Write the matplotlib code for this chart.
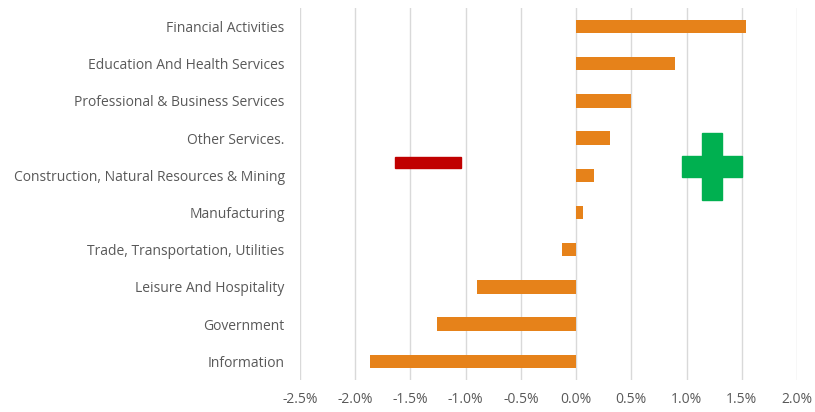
import matplotlib.pyplot as plt
from matplotlib.patches import Rectangle

categories = ['Information', 'Government', 'Leisure And Hospitality',
              'Trade, Transportation, Utilities', 'Manufacturing',
              'Construction, Natural Resources & Mining', 'Other Services.',
              'Professional & Business Services', 'Education And Health Services',
              'Financial Activities']
values = [-1.865, -1.26, -0.90, -0.13, 0.063, 0.16, 0.305, 0.50, 0.895, 1.54]
xticks = [-2.5, -2.0, -1.5, -1.0, -0.5, 0.0, 0.5, 1.0, 1.5, 2.0]

# decorative minus / plus signs (x0, y0, width, height) in data units
minus_rect = [(-1.64, 5.19, 0.60, 0.295)]
plus_rects = [(0.956, 4.96, 0.542, 0.555), (1.137, 4.35, 0.181, 1.79)]

plt.rcParams['font.family'] = ['Open Sans', 'DejaVu Sans']

fig = plt.figure(figsize=(8.15, 4.12), dpi=100)
ax = fig.add_axes([0.368, 0.0777, 0.610, 0.9029])

y = list(range(len(categories)))
ax.barh(y, values, height=0.36, color='#E6821A', zorder=3)

for x0, y0, w, h in minus_rect:
    ax.add_patch(Rectangle((x0, y0), w, h, color='#C00000', zorder=4))
for x0, y0, w, h in plus_rects:
    ax.add_patch(Rectangle((x0, y0), w, h, color='#00B050', zorder=4))

ax.set_xlim(-2.5, 2.0)
ax.set_ylim(-0.5, 9.5)
ax.set_xticks(xticks)
ax.set_xticklabels(['%.1f%%' % v for v in xticks])
ax.set_yticks(y)
ax.set_yticklabels(categories)
ax.grid(axis='x', color='#D9D9D9', linewidth=1, zorder=0)
for s in ax.spines.values():
    s.set_visible(False)
ax.tick_params(axis='both', length=0, labelsize=10, labelcolor='#595959')
ax.tick_params(axis='y', pad=11)
ax.tick_params(axis='x', pad=9)

fig.savefig('out.png', dpi=100)
